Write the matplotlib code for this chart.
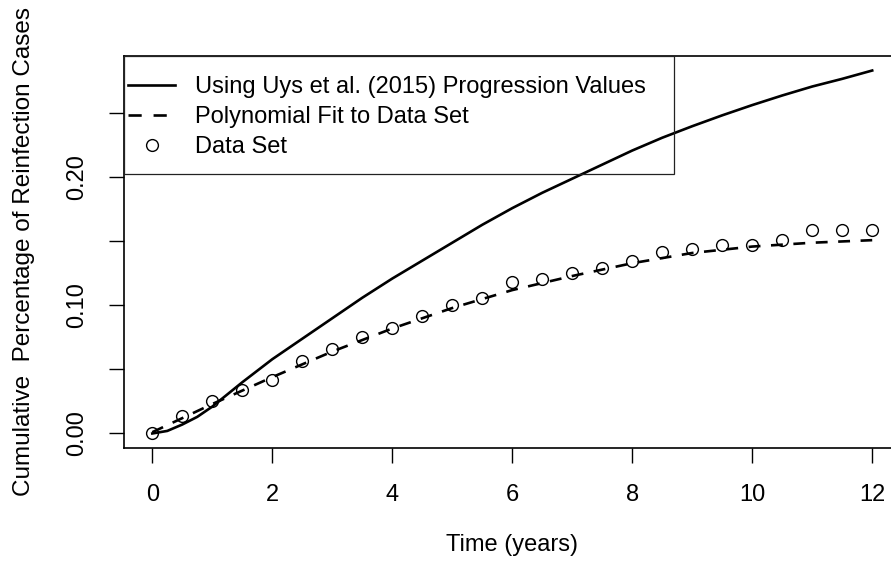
import matplotlib
matplotlib.use("Agg")
import matplotlib.pyplot as plt
from matplotlib.lines import Line2D
from matplotlib.patches import Rectangle

plt.rcParams['font.family'] = ['Liberation Sans', 'DejaVu Sans']

# ---- data ----
data_years = [0, 0.5, 1, 1.5, 2, 2.5, 3, 3.5, 4, 4.5, 5, 5.5, 6, 6.5, 7, 7.5,
              8, 8.5, 9, 9.5, 10, 10.5, 11, 11.5, 12]
data_values = [0.000, 0.014, 0.025, 0.034, 0.042, 0.057, 0.066, 0.075, 0.082,
               0.092, 0.100, 0.106, 0.118, 0.121, 0.125, 0.129, 0.135, 0.142,
               0.144, 0.147, 0.147, 0.151, 0.159, 0.159, 0.159]

uys_years = [0, 0.25, 0.5, 0.75, 1, 1.5, 2, 2.5, 3, 3.5, 4, 4.5, 5, 5.5, 6, 6.5,
             7, 7.5, 8, 8.5, 9, 9.5, 10, 10.5, 11, 11.5, 12]
uys_values = [0.000, 0.002, 0.007, 0.013, 0.021, 0.040, 0.058, 0.074, 0.090,
              0.106, 0.121, 0.135, 0.149, 0.163, 0.176, 0.188, 0.199, 0.210,
              0.221, 0.231, 0.240, 0.2485, 0.2565, 0.264, 0.271, 0.277, 0.2835]

fit_years = [0, 1, 2, 3, 4, 5, 6, 7, 8, 9, 10, 11, 12]
fit_values = [0.001, 0.023, 0.044, 0.064, 0.082, 0.098, 0.112, 0.123, 0.133,
              0.141, 0.146, 0.149, 0.151]

x_ticks = [0, 2, 4, 6, 8, 10, 12]
y_ticks = [0.00, 0.05, 0.10, 0.15, 0.20, 0.25]
y_tick_labels = ['0.00', '', '0.10', '', '0.20', '']

labels = ['Using Uys et al. (2015) Progression Values',
          'Polynomial Fit to Data Set',
          'Data Set']
x_label = 'Time (years)'
y_label = 'Cumulative  Percentage of Reinfection Cases'

# ---- figure ----
W, H = 891, 566
fig = plt.figure(figsize=(W / 100, H / 100), dpi=100)
ax_l, ax_r, ax_t, ax_b = 123.5, 901.0, 56.0, 448.0
ax = fig.add_axes([ax_l / W, 1 - ax_b / H, (ax_r - ax_l) / W, (ax_b - ax_t) / H])

ax.plot(uys_years, uys_values, color='black', lw=1.9, solid_joinstyle='round')
ax.plot(fit_years, fit_values, color='black', lw=1.9, dashes=(4.5, 4))
ax.plot(data_years, data_values, linestyle='none', marker='o', ms=8.5,
        mfc='none', mec='black', mew=1.0)

xmin, xmax = 0, 12
ymin, ymax = 0, max(uys_values)
ax.set_xlim(xmin - 0.04 * (xmax - xmin), xmax + 0.04 * (xmax - xmin))
ax.set_ylim(ymin - 0.04 * (ymax - ymin), ymax + 0.04 * (ymax - ymin))

ax.set_xticks(x_ticks)
ax.set_xticklabels([str(v) for v in x_ticks])
ax.set_yticks(y_ticks)
ax.set_yticklabels(y_tick_labels, rotation=90, va='center')
ax.tick_params(axis='both', length=11, width=1.0, labelsize=17, color='black')
ax.tick_params(axis='x', pad=15)
ax.tick_params(axis='y', pad=14.5)
for sp in ax.spines.values():
    sp.set_linewidth(1.2)

ax.set_xlabel(x_label, fontsize=17, labelpad=20)
ax.set_ylabel(y_label, fontsize=17.5)
ax.yaxis.set_label_coords((35 - ax_l) / (ax_r - ax_l), 0.5)

# legend box
box_w = (674 - ax_l) / (ax_r - ax_l)
box_h = (174.3 - ax_t) / (ax_b - ax_t)
ax.add_patch(Rectangle((0, 1 - box_h), box_w, box_h, transform=ax.transAxes,
                       fill=False, edgecolor='#222222', lw=0.9, zorder=5,
                       clip_on=False))

handles = [Line2D([], [], color='black', lw=1.9),
           Line2D([], [], color='black', lw=1.9, dashes=(5, 4.5)),
           Line2D([], [], linestyle='none', marker='o', ms=8.5, mfc='none',
                  mec='black', mew=1.0)]
leg = ax.legend(handles, labels, loc='upper left',
                bbox_to_anchor=((128 - ax_l) / (ax_r - ax_l), 1 - 20 / (ax_b - ax_t)),
                frameon=False, fontsize=17, handlelength=2.0,
                handletextpad=0.85, labelspacing=0.34, borderpad=0,
                borderaxespad=0)

fig.savefig('out.png', dpi=100)
